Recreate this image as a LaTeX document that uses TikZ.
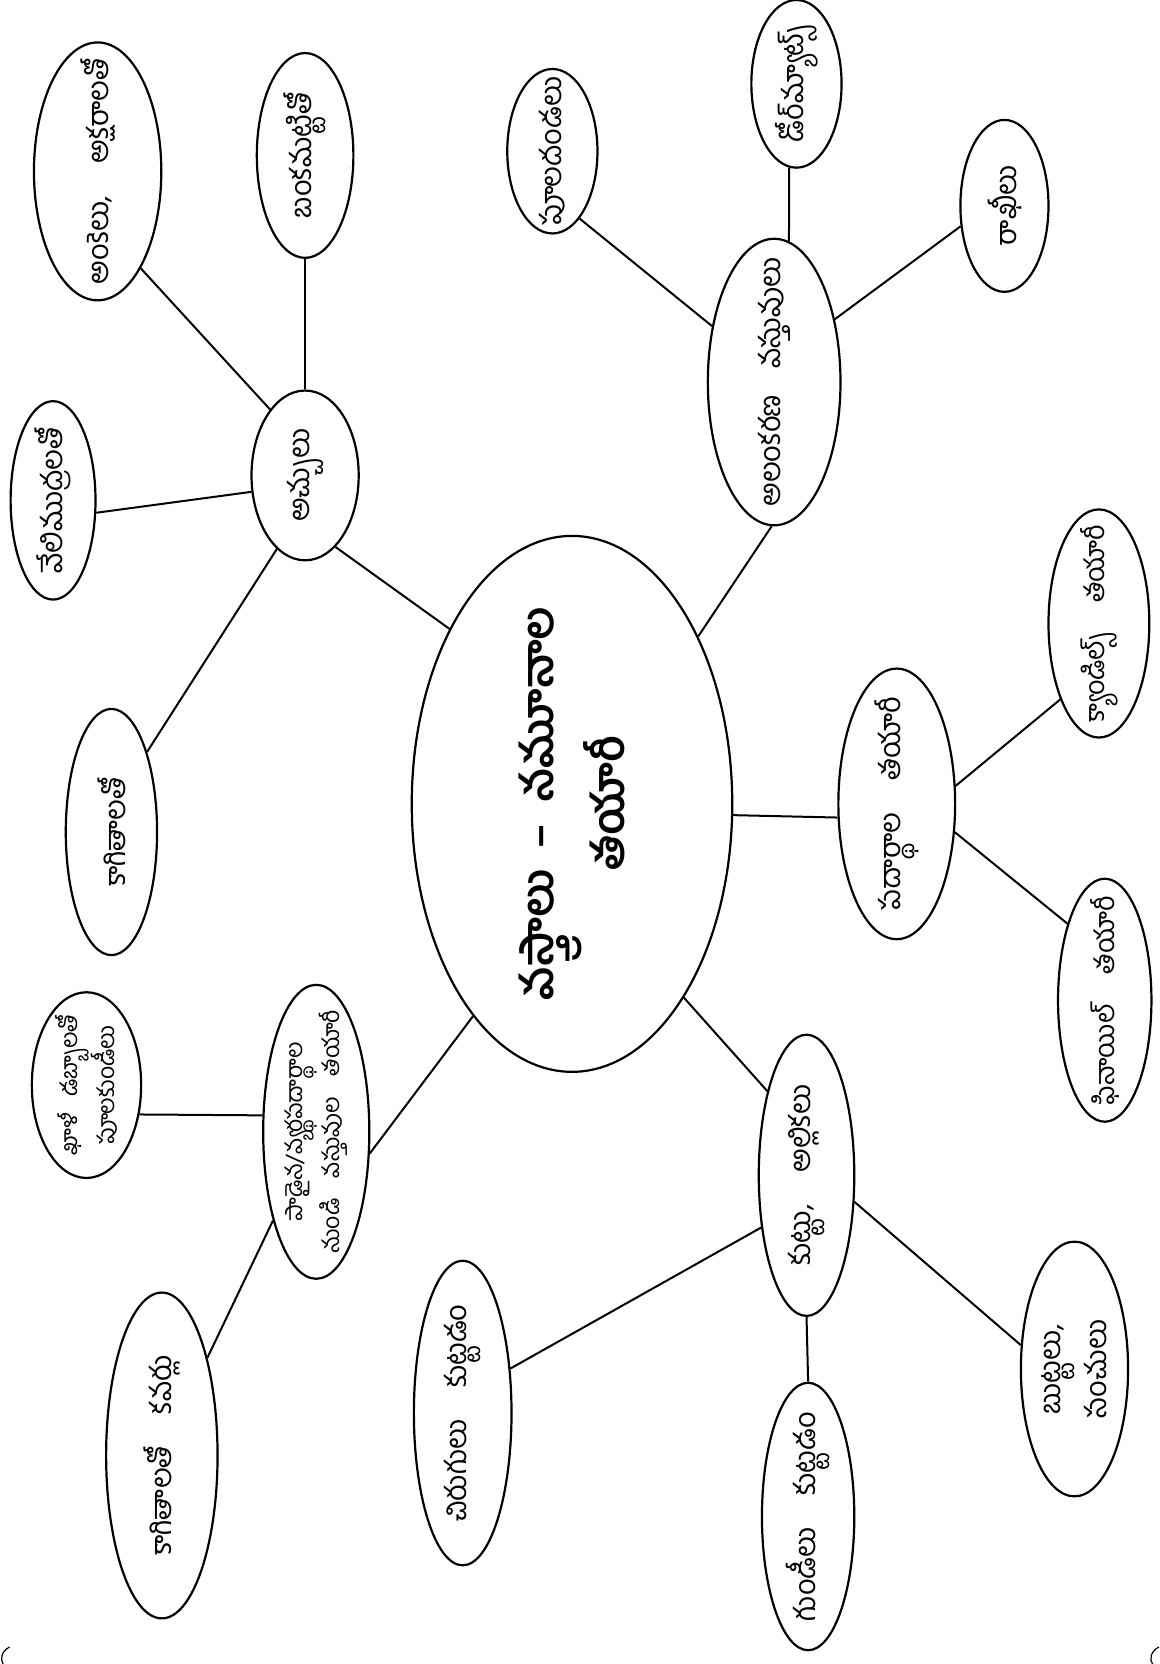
\documentclass[tikz,border=0pt]{standalone}
\usepackage{fontspec}
\newfontfamily\tel[Script=Telugu]{Hind Guntur}
\usetikzlibrary{shapes.geometric}
\newcommand\gap{\hspace{1.1em}}
\tikzset{
  ell/.style 2 args={draw, ellipse, line width=2.2pt, inner sep=0pt,
     minimum width={#1*1.0613pt}, minimum height={#2*1.0613pt}},
  txt/.style={rotate=90, align=center, inner sep=0pt,
     font=\tel\fontsize{29}{46}\selectfont},
  txts/.style={rotate=90, align=center, inner sep=0pt,
     font=\tel\fontsize{27}{40}\selectfont},
  txtxs/.style={rotate=90, align=center, inner sep=0pt,
     font=\tel\fontsize{23}{37}\selectfont},
  big/.style={rotate=90, align=center, inner sep=0pt,
     font=\tel\bfseries\fontsize{44}{58}\selectfont},
  con/.style={line width=2pt}
}
\begin{document}
\begin{tikzpicture}[x=1.0613pt, y=-1.0613pt]
\useasboundingbox (0,0) rectangle (1093,1568);

% centre
\node[ell={302}{505}] (c) at (539,757.5) {};
\node[big] (ct) at (539,757) {వస్త్రాలు\ \ –\ \ నమూనాల\\తయారీ};

% prints cluster
\node[ell={101}{160}] (acchu) at (287.5,448) {};
\node[txt] (acchut) at (acchu) {అచ్చులు};
\node[ell={120}{243}] (ank) at (92,161.5) {};
\node[txt] (ankt) at (ank) {అంకెలు,\gap అక్షరాలతో};
\node[ell={91}{193}] (bank) at (287.5,146.5) {};
\node[txt] (bankt) at (bank) {బంకమట్టితో};
\node[ell={80}{187}] (veli) at (50,471.5) {};
\node[txt] (velit) at (veli) {వేలిముద్రలతో};
\node[ell={86}{232}] (kagi) at (105,784) {};
\node[txt] (kagit) at (kagi) {కాగితాలతో};

% decoration cluster
\node[ell={125}{270}] (alank) at (729.5,360) {};
\node[txt] (alankt) at (alank) {అలంకరణ\hspace{0.9em}వస్తువులు};
\node[ell={85}{155}] (pula) at (520.5,142.5) {};
\node[txt] (pulat) at (pula) {పూలదండలు};
\node[ell={85}{158}] (door) at (750.5,79) {};
\node[txt] (doort) at (door) {డోర్^^^^200cమ్యాట్స్};
\node[ell={83}{162}] (rakhi) at (946.5,194) {};
\node[txt] (rakhit) at (rakhi) {రాఖీలు};

% substances cluster
\node[ell={110}{255}] (padar) at (845,757.5) {};
\node[txt] (padart) at (padar) {పదార్థాల\gap తయారీ};
\node[ell={95}{215}] (candle) at (1035.5,587.5) {};
\node[txts] (candlet) at (candle) {క్యాండిల్స్\gap తయారీ};
\node[ell={88}{229}] (phenyl) at (1041,942.5) {};
\node[txts] (phenylt) at (phenyl) {ఫినాయిల్\gap తయారీ};

% sewing cluster
\node[ell={90}{265}] (kuttu) at (760,1107.5) {};
\node[txt] (kuttut) at (kuttu) {కుట్టు,\gap అల్లికలు};
\node[ell={101}{240}] (butta) at (1012.5,1290) {};
\node[txt] (buttat) at (butta) {బుట్టలు,\\సంచులు};
\node[ell={87}{252}] (gundi) at (761.5,1429) {};
\node[txt] (gundit) at (gundi) {గుండీలు\gap కుట్టడం};
\node[ell={92}{287}] (chiru) at (436,1331.5) {};
\node[txt] (chirut) at (chiru) {చిరుగులు\gap కుట్టడం};

% waste cluster
\node[ell={100}{277}] (waste) at (298,1066.5) {};
\node[txtxs] (wastet) at (waste) {పాడైన/వ్యర్థపదార్థాల\\నుండి\hspace{0.9em}వస్తువుల\hspace{0.9em}తయారీ};
\node[ell={103}{175}] (khali) at (81.5,1022.5) {};
\node[txtxs] (khalit) at (khali) {ఖాళీ\hspace{0.7em}డబ్బాలతో\\పూలకుండీలు};
\node[ell={105}{307}] (kavar) at (152.5,1371.5) {};
\node[txt] (kavart) at (kavar) {కాగితాలతో\gap కవర్లు};

% connectors
\draw[con] (c.125.7) -- (acchu.-67);
\draw[con] (acchu.118.9) -- (ank.-66.8);
\draw[con] (acchu.90) -- (bank.-90);
\draw[con] (acchu.-163.1) -- (veli.-16.8);
\draw[con] (acchu.-111) -- (kagi.66.6);

\draw[con] (c.53.5) -- (alank.-91);
\draw[con] (alank.138.7) -- (pula.-68.6);
\draw[con] (alank.84.3) -- (door.-95.4);
\draw[con] (alank.46.2) -- (rakhi.-155.4);

\draw[con] (c.-4.7) -- (padar.-167.2);
\draw[con] (padar.17.6) -- (candle.-117.2);
\draw[con] (padar.-26.6) -- (phenyl.116.4);

\draw[con] (c.-60.8) -- (kuttu.115.9);
\draw[con] (kuttu.-131.5) -- (chiru.43.4);
\draw[con] (kuttu.-90) -- (gundi.90);
\draw[con] (kuttu.-29) -- (butta.156.1);

\draw[con] (c.-115.1) -- (waste.-22.3);
\draw[con] (waste.163.2) -- (khali.-29.8);
\draw[con] (waste.-116.9) -- (kavar.65.6);

% corner marks
\draw[line width=1.2pt] (9,1552) .. controls (1,1556) and (0,1564) .. (3,1568);
\draw[line width=1.2pt] (1092,1552) .. controls (1084,1556) and (1083,1564) .. (1086,1568);
\end{tikzpicture}
\end{document}
